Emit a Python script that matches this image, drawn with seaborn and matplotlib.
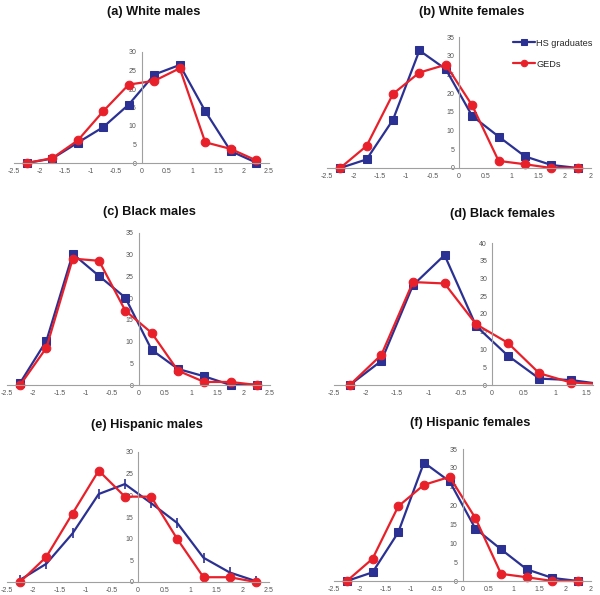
import matplotlib
matplotlib.use("Agg")
import matplotlib.pyplot as plt
import seaborn as sns
import pandas as pd

# bin midpoints (standardized score)
x_bins = [-2.25, -1.75, -1.25, -0.75, -0.25, 0.25, 0.75, 1.25, 1.75, 2.25]

white_m_hs = [0.0, 1.2, 5.5, 9.7, 15.8, 23.9, 26.5, 14.0, 3.2, 0.1]
white_m_ged = [0.0, 1.3, 6.1, 14.0, 21.2, 22.2, 25.6, 5.6, 3.8, 0.7]

white_f_hs = [0.0, 2.3, 12.9, 31.4, 26.4, 13.9, 8.4, 3.1, 0.8, 0.0]
white_f_ged = [0.0, 5.9, 19.8, 25.5, 27.6, 16.7, 1.9, 1.0, 0.0, 0.0]

black_m_hs = [0.5, 10.2, 30.2, 25.1, 20.1, 8.1, 3.7, 2.0, 0.0, 0.1]
black_m_ged = [0.0, 8.6, 29.1, 28.6, 17.1, 12.0, 3.3, 0.7, 0.7, 0.0]

black_f_hs = [0.0, 6.8, 28.1, 36.6, 16.6, 8.3, 1.8, 1.4, 0.2, 0.0]
black_f_ged = [0.0, 8.5, 29.0, 28.6, 17.1, 11.9, 3.3, 0.7, 0.3, 0.0]

hisp_m_hs = [0.5, 4.2, 11.2, 20.3, 22.6, 18.2, 13.6, 5.6, 2.2, 0.2]
hisp_m_ged = [0.0, 5.8, 15.8, 25.7, 19.7, 19.7, 9.9, 1.1, 1.1, 0.0]

hisp_f_hs = [0.0, 2.3, 12.9, 31.4, 26.4, 13.9, 8.4, 3.1, 0.8, 0.0]
hisp_f_ged = [0.0, 5.9, 19.8, 25.5, 27.6, 16.7, 1.9, 1.0, 0.0, 0.0]

titles = ["(a) White males", "(b) White females", "(c) Black males",
          "(d) Black females", "(e) Hispanic males", "(f) Hispanic females"]
xtick_vals = [-2.5, -2, -1.5, -1, -0.5, 0, 0.5, 1, 1.5, 2, 2.5]
xtick_labs = ["-2.5", "-2", "-1.5", "-1", "-0.5", "0", "0.5", "1", "1.5", "2", "2.5"]

BLUE = "#2B3192"
RED = "#E8202A"
W, H = 600, 595
YPAD = 1.5  # a little room under zero so markers are not cut

sns.set_theme(style="white")
plt.rcParams['font.family'] = ['Liberation Sans', 'DejaVu Sans']

fig = plt.figure(figsize=(6, 5.95), dpi=100)


def add_panel(left, right, y0_px, ytop_px, xlim, ytop):
    ppu = (y0_px - ytop_px) / ytop
    bottom = y0_px + YPAD * ppu
    ax = fig.add_axes([left / W, 1 - bottom / H, (right - left) / W, (bottom - ytop_px) / H])
    ax.set_xlim(*xlim)
    ax.set_ylim(-YPAD, ytop)
    return ax


panels = [
    # left px, right px, y0 px, ytop px, xlim, ytop, hs, ged, title pos
    (14, 269, 163, 52, (-2.5, 2.5), 30, white_m_hs, white_m_ged, (154, 12)),
    (327, 591, 168, 37, (-2.5, 2.5), 35, white_f_hs, white_f_ged, (472, 12)),
    (7, 270, 385, 233, (-2.5, 2.5), 35, black_m_hs, black_m_ged, (149, 212)),
    (334, 593, 385, 243, (-2.5, 1.6), 40, black_f_hs, black_f_ged, (502, 214)),
    (7, 269, 582, 452, (-2.5, 2.5), 30, hisp_m_hs, hisp_m_ged, (147, 425)),
    (334, 591, 581, 449, (-2.5, 2.5), 35, hisp_f_hs, hisp_f_ged, (470, 423)),
]

for i, (l, r, y0, yt, xl, ytop, hs, ged, tpos) in enumerate(panels):
    ax = add_panel(l, r, y0, yt, xl, ytop)
    df = pd.DataFrame({"x": x_bins, "hs": hs, "ged": ged})
    if i == 4:
        sns.lineplot(data=df, x="x", y="hs", ax=ax, color=BLUE, lw=1.6,
                     marker="|", markersize=7, markeredgewidth=1.2,
                     markeredgecolor=BLUE, label="HS graduates")
    else:
        sns.lineplot(data=df, x="x", y="hs", ax=ax, color=BLUE, lw=1.6,
                     marker="s", markersize=5.8, markeredgecolor=BLUE,
                     label="HS graduates")
    sns.lineplot(data=df, x="x", y="ged", ax=ax, color=RED, lw=1.6,
                 marker="o", markersize=6.2, markeredgecolor=RED,
                 label="GEDs")
    if ax.get_legend():
        ax.get_legend().remove()

    ax.spines["left"].set_position(("data", 0))
    ax.spines["bottom"].set_position(("data", 0))
    ax.spines["left"].set_bounds(0, ytop)
    ax.spines["top"].set_visible(False)
    ax.spines["right"].set_visible(False)
    for s in ("left", "bottom"):
        ax.spines[s].set_color("#a0a0a0")
        ax.spines[s].set_linewidth(0.8)
    ax.set_xlabel("")
    ax.set_ylabel("")
    xt = [(v, t) for v, t in zip(xtick_vals, xtick_labs) if xl[0] <= v <= xl[1] + 1e-9]
    labs = [t for _, t in xt]
    if i in (1, 5):
        labs[-1] = "2"
    ax.set_xticks([v for v, _ in xt])
    ax.set_xticklabels(labs)
    ax.set_yticks(list(range(0, ytop + 1, 5)))
    ax.tick_params(axis="both", labelsize=5, labelcolor="#555555", length=2,
                   width=0.6, direction="out", pad=1.5, color="#a0a0a0")
    ax.patch.set_alpha(0)

    fig.text(tpos[0] / W, 1 - tpos[1] / H, titles[i], ha="center", va="center",
             fontsize=9.2, fontweight="bold", color="#111111")

    if i == 1:
        ax.legend(handles=ax.get_lines()[:2], labels=["HS graduates", "GEDs"],
                  loc="upper left", bbox_to_anchor=(509 / W, 1 - 35 / H),
                  bbox_transform=fig.transFigure, frameon=False, fontsize=6.6,
                  markerscale=0.75, handlelength=2.4, handletextpad=0.15,
                  labelspacing=1.3, borderaxespad=0)

fig.savefig("out.png", dpi=100)
